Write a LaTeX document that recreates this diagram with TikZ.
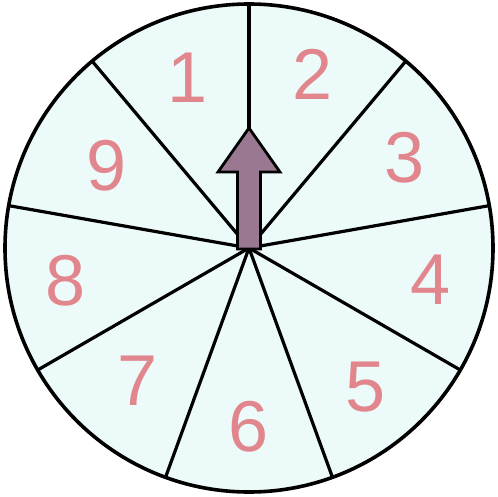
\documentclass[tikz,border=0pt]{standalone}
\usepackage{fontspec}
\setmainfont{Liberation Sans}
\usepackage{tikz}

\definecolor{sectorfill}{RGB}{236,250,250}
\definecolor{digitpink}{RGB}{226,134,142}
\definecolor{pointermauve}{RGB}{154,120,146}

\begin{document}
\begin{tikzpicture}[x=1pt, y=1pt,
    rim/.style={draw=black, line width=3.6pt, fill=sectorfill},
    spoke/.style={black, line width=3.2pt},
    digit/.style={text=digitpink, font=\fontsize{72}{72}\selectfont, inner sep=0pt},
    pointer/.style={draw=black, line width=2.8pt, fill=pointermauve, line join=miter}]

\useasboundingbox (-249,-248) rectangle (249,248);

\coordinate (hub) at (0,0);
\draw[rim] (hub) circle (244);

% nine equal sectors
\foreach \k in {0,...,8}{
  \coordinate (s\k) at ({90-40*\k}:244);
  \draw[spoke] (hub) -- (s\k);
}

\foreach \n/\r in {1/181,2/185,3/180,4/184,5/182,6/179,7/173,8/186,9/165}{
  \node[digit] (d\n) at ({110-40*(\n-1)}:\r) {\n};
}

% pointer
\draw[pointer] (-11.5,-1) -- (-11.5,76) -- (-31,76) -- (0,120)
  -- (31,76) -- (11.5,76) -- (11.5,-1) -- cycle;
\end{tikzpicture}
\end{document}
